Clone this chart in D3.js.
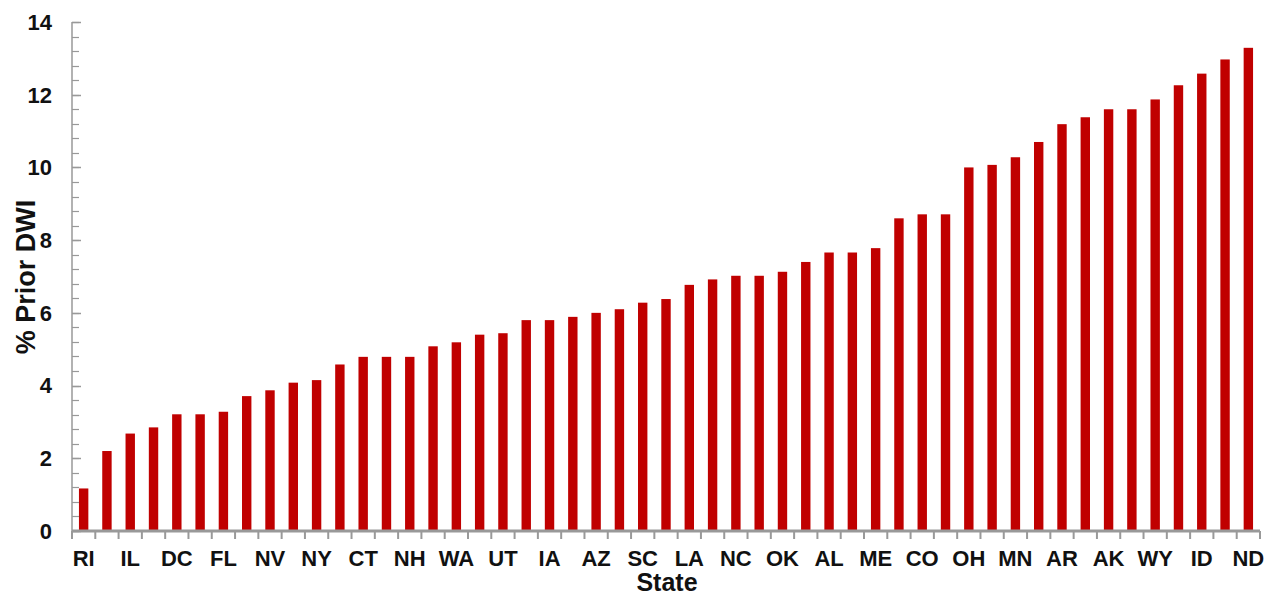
<!DOCTYPE html>
<html><head><meta charset="utf-8">
<script src="https://cdn.jsdelivr.net/npm/d3@7"></script>
<style>body{margin:0;background:#fff}svg{display:block}text{font-family:"Liberation Sans",Arial,sans-serif;font-weight:bold}</style>
</head><body><svg id="c" width="1266" height="592"></svg>
<script>
const states = ["RI","s1","IL","s3","DC","s5","FL","s7","NV","s9","NY","s11","CT","s13","NH","s15","WA","s17","UT","s19","IA","s21","AZ","s23","SC","s25","LA","s27","NC","s29","OK","s31","AL","s33","ME","s35","CO","s37","OH","s39","MN","s41","AR","s43","AK","s45","WY","s47","ID","s49","ND"];
const values = [1.17,2.2,2.68,2.85,3.21,3.21,3.28,3.71,3.87,4.08,4.15,4.58,4.79,4.79,4.79,5.08,5.19,5.40,5.44,5.80,5.80,5.89,6.0,6.10,6.28,6.38,6.77,6.92,7.02,7.02,7.13,7.40,7.66,7.66,7.78,8.60,8.71,8.71,10.0,10.07,10.28,10.70,11.19,11.38,11.60,11.60,11.87,12.26,12.58,12.97,13.29];
const yTicks = [0,2,4,6,8,10,12,14];
const yMinor = d3.range(0,14.01,0.4).map(v=>+v.toFixed(1));

const svg = d3.select("#c");
const L=72,R=1260,T=22,B=531;
const xs = d3.scaleLinear().domain([0,states.length]).range([L,R]);
const y = d3.scaleLinear().domain([0,14]).range([B,T]);

svg.append("g").selectAll("rect").data(values).join("rect")
  .attr("x",(d,i)=>xs(i+0.5)-4.7).attr("width",9.4)
  .attr("y",d=>y(d)).attr("height",d=>B-y(d)).attr("fill","#C00000");

const grey="#999";
const ya = svg.append("g");
ya.selectAll("line.mn").data(yMinor).join("line").attr("x1",L).attr("x2",L+7)
  .attr("y1",d=>Math.round(y(d))+0.5).attr("y2",d=>Math.round(y(d))+0.5).attr("stroke",grey).attr("stroke-width",1.2);
ya.selectAll("line.mj").data(yTicks).join("line").attr("x1",L).attr("x2",L+9)
  .attr("y1",d=>Math.round(y(d))+0.5).attr("y2",d=>Math.round(y(d))+0.5).attr("stroke",grey).attr("stroke-width",1.5);
ya.append("line").attr("x1",L).attr("x2",L).attr("y1",T).attr("y2",B).attr("stroke",grey).attr("stroke-width",1.5);
ya.selectAll("text").data(yTicks).join("text").attr("x",52).attr("y",d=>y(d)).attr("dy","0.36em")
  .attr("text-anchor","end").attr("font-size",22).attr("fill","#111").text(d=>d);

const xa = svg.append("g");
xa.selectAll("line.t").data(d3.range(states.length+1)).join("line")
  .attr("x1",d=>xs(d)).attr("x2",d=>xs(d)).attr("y1",B).attr("y2",B+8).attr("stroke",grey).attr("stroke-width",2);
xa.append("line").attr("x1",L).attr("x2",R).attr("y1",B).attr("y2",B).attr("stroke",grey).attr("stroke-width",3);
xa.selectAll("text").data(states.map((s,i)=>({s,i})).filter(d=>d.i%2===0)).join("text")
  .attr("x",d=>xs(d.i+0.5)).attr("y",566).attr("text-anchor","middle").attr("font-size",22).attr("fill","#111").text(d=>d.s);

svg.append("text").attr("x",667).attr("y",591).attr("text-anchor","middle").attr("font-size",25).attr("fill","#111").text("State");
svg.append("text").attr("transform","translate(35,277) rotate(-90)").attr("text-anchor","middle").attr("font-size",27).attr("fill","#111").text("% Prior DWI");
</script></body></html>
